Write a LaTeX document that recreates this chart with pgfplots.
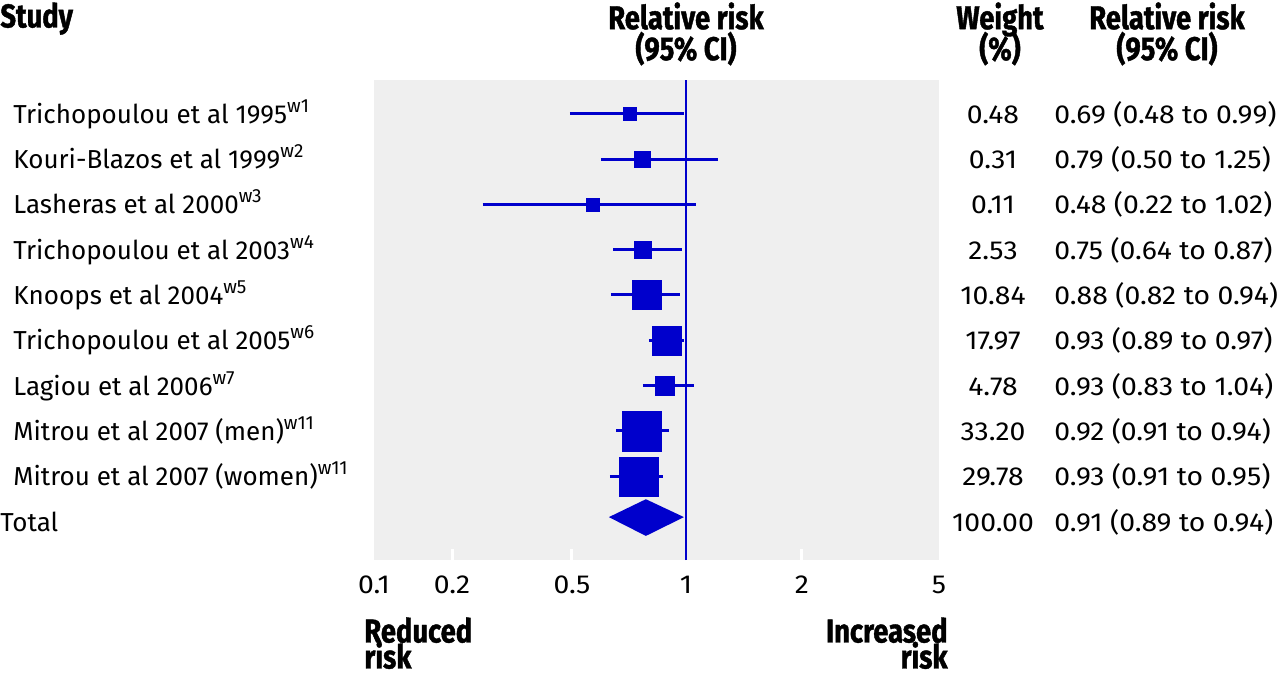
\documentclass[border=0pt]{standalone}
\usepackage{fontspec}
\setmainfont{Fira Sans}
\newfontfamily\hfont[FakeStretch=0.83, BoldFeatures={FakeBold=1.2}]{Fira Sans}
\newfontfamily\numfont[FakeStretch=1.09]{Fira Sans}
\usepackage{pgfplots}
\pgfplotsset{compat=1.18}
\definecolor{rrblue}{RGB}{0,0,204}
\definecolor{bggray}{RGB}{239,239,239}
\newcommand{\bodyfont}{\fontsize{13}{15}\selectfont}
\newcommand{\nfont}{\numfont\fontsize{13}{15}\selectfont}
\newcommand{\headfont}{\hfont\bfseries\fontsize{16.5}{15.5}\selectfont\lineskiplimit=-\maxdimen}
\newcommand{\botfont}{\hfont\bfseries\fontsize{16.5}{13}\selectfont\lineskiplimit=-\maxdimen}
\newcommand{\sups}[1]{\raisebox{0.42em}{\fontsize{9.5}{10}\selectfont #1}}

\begin{document}
\begin{tikzpicture}[x=0.5pt,y=-0.5pt]
\useasboundingbox (0,0) rectangle (1280,677);
\begin{axis}[
  at={(187pt,-280pt)}, anchor=south west,
  scale only axis, width=282.5pt, height=240pt,
  xmin=0.1, xmax=5, ymin=-0.852, ymax=9.744,
  x coord trafo/.code={%
    \pgfmathsetmacro\uu{ln(#1)/2.302585}%
    \pgfmathparse{\uu<-0.699 ? -312+(\uu+1)*259.1 : (\uu<-0.301 ? -234+(\uu+0.699)*301.5 : (\uu<0 ? -114+(\uu+0.301)*378.7 : (\uu<0.301 ? \uu*385.4 : 116+(\uu-0.301)*344.2)))}%
  },
  axis line style={draw=none},
  axis background/.style={fill=bggray},
  xtick={0.1,0.2,0.5,1,2,5}, xticklabels={0.1,0.2,0.5,1,2,5},
  major tick length=0pt,
  xtick pos=left, ytick=\empty,
  extra x ticks={0.2,0.5,2}, extra x tick labels={},
  extra x tick style={tick align=inside, major tick length=5.5pt, xtick style={white, line width=1.5pt}},
  /pgf/number format/assume math mode=true,
  xticklabel style={font=\nfont, yshift=-4.5pt},
  clip=false,
  every axis plot/.append style={rrblue},
  sq/.style={only marks, mark=square*, mark options={draw=rrblue, fill=rrblue, line width=0.1pt}},
  ci/.style={line width=1.5pt, no marks},
]
\addplot[line width=1pt, no marks] coordinates {(1,-0.852) (1,9.744)};
% confidence intervals
\addplot[ci] coordinates {(0.492,9) (0.99,9)};
\addplot[ci] coordinates {(0.596,8) (1.211,8)};
\addplot[ci] coordinates {(0.253,7) (1.062,7)};
\addplot[ci] coordinates {(0.642,6) (0.976,6)};
\addplot[ci] coordinates {(0.634,5) (0.964,5)};
\addplot[ci] coordinates {(0.798,4) (0.988,4)};
\addplot[ci] coordinates {(0.770,3) (1.049,3)};
\addplot[ci] coordinates {(0.654,2) (0.902,2)};
\addplot[ci] coordinates {(0.630,1) (0.870,1)};
% point estimates, square size ~ weight
\addplot[sq, mark size=3.25pt] coordinates {(0.709,9)};
\addplot[sq, mark size=4.0pt]  coordinates {(0.765,8)};
\addplot[sq, mark size=3.25pt] coordinates {(0.566,7)};
\addplot[sq, mark size=4.4pt]  coordinates {(0.768,6)};
\addplot[sq, mark size=7.25pt] coordinates {(0.786,5)};
\addplot[sq, mark size=7.25pt] coordinates {(0.891,4)};
\addplot[sq, mark size=4.75pt] coordinates {(0.877,3)};
\addplot[sq, mark size=9.9pt]  coordinates {(0.763,2)};
\addplot[sq, mark size=9.75pt] coordinates {(0.749,1)};
% pooled estimate
\addplot[fill=rrblue, draw=none, no marks] coordinates {(0.626,0.095) (0.784,0.49) (0.988,0.095) (0.784,-0.32)} -- cycle;
\end{axis}

% headers
\node[font=\headfont, anchor=north west, inner sep=0] at (0,2) {Study};
\node[font=\headfont, anchor=north, inner sep=0, align=center] at (686,2) {Relative risk\\(95\% CI)};
\node[font=\headfont, anchor=north, inner sep=0, align=center] at (1000,2) {Weight\\(\%)};
\node[font=\headfont, anchor=north, inner sep=0, align=center] at (1167,2) {Relative risk\\(95\% CI)};

% study labels
\begin{scope}[every node/.style={font=\bodyfont, anchor=base west, inner sep=0}]
\node at (13,123) {Trichopoulou et al 1995\sups{w1}};
\node at (13,168) {Kouri-Blazos et al 1999\sups{w2}};
\node at (13,213) {Lasheras et al 2000\sups{w3}};
\node at (13,259) {Trichopoulou et al 2003\sups{w4}};
\node at (13,304) {Knoops et al 2004\sups{w5}};
\node at (13,349) {Trichopoulou et al 2005\sups{w6}};
\node at (13,395) {Lagiou et al 2006\sups{w7}};
\node at (13,440) {Mitrou et al 2007 (men)\sups{w11}};
\node at (13,485) {Mitrou et al 2007 (women)\sups{w11}};
\node at (0,531) {Total};
\end{scope}

% weights
\begin{scope}[every node/.style={font=\nfont, anchor=base, inner sep=0}]
\node at (993,123) {0.48};
\node at (993,168) {0.31};
\node at (993,213) {0.11};
\node at (993,259) {2.53};
\node at (993,304) {10.84};
\node at (993,349) {17.97};
\node at (993,395) {4.78};
\node at (993,440) {33.20};
\node at (993,485) {29.78};
\node at (993,531) {100.00};
\end{scope}

% RR text
\begin{scope}[every node/.style={font=\nfont, anchor=base west, inner sep=0}]
\node at (1054,123) {0.69 (0.48 to 0.99)};
\node at (1054,168) {0.79 (0.50 to 1.25)};
\node at (1054,213) {0.48 (0.22 to 1.02)};
\node at (1054,259) {0.75 (0.64 to 0.87)};
\node at (1054,304) {0.88 (0.82 to 0.94)};
\node at (1054,349) {0.93 (0.89 to 0.97)};
\node at (1054,395) {0.93 (0.83 to 1.04)};
\node at (1054,440) {0.92 (0.91 to 0.94)};
\node at (1054,485) {0.93 (0.91 to 0.95)};
\node at (1054,531) {0.91 (0.89 to 0.94)};
\end{scope}

% bottom labels
\node[font=\botfont, anchor=north west, inner sep=0, align=left] at (364,617) {Reduced\\risk};
\node[font=\botfont, anchor=north east, inner sep=0, align=right] at (948,617) {Increased\\risk};
\end{tikzpicture}
\end{document}
